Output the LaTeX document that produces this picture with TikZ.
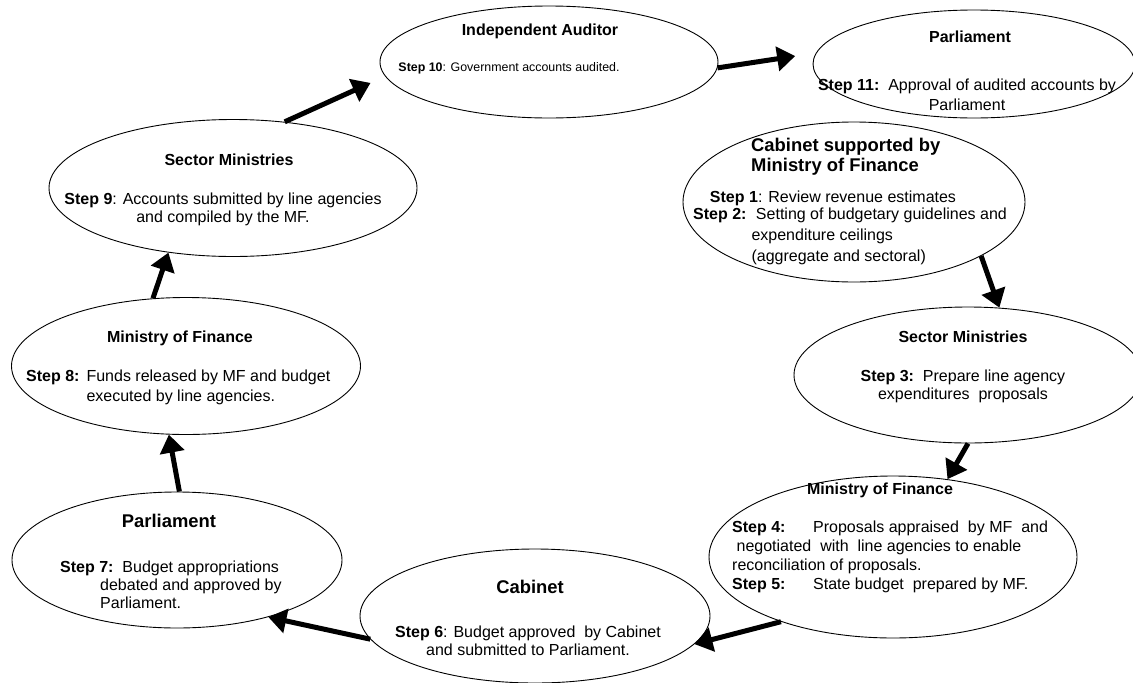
\documentclass[tikz,border=0pt]{standalone}
\usepackage{fontspec}
\setmainfont{Liberation Sans}
\usetikzlibrary{shapes.geometric}
\usetikzlibrary{arrows.meta}
\tikzset{
  stage/.style={draw, ellipse, line width=0.9pt, inner sep=0pt},
  head/.style={inner sep=0pt, font=\bfseries\fontsize{16}{19}\selectfont},
  bighead/.style={inner sep=0pt, align=left, font=\bfseries\fontsize{18.4}{20}\selectfont},
  txt/.style={inner sep=0pt, align=center, font=\fontsize{16}{18}\selectfont},
  flow/.style={line width=5pt, -{Triangle[length=18pt,width=24pt]}},
}
\begin{document}
\begin{tikzpicture}[x=1pt,y=-1pt]
    \useasboundingbox (0,0) rectangle (1133,683);
    \node[stage, minimum width=338, minimum height=112] (aud) at (549,62) {};
    \node[stage, minimum width=322, minimum height=108] (parT) at (974,64) {};
    \node[stage, minimum width=342, minimum height=160] (cabS) at (854,202) {};
    \node[stage, minimum width=348, minimum height=136] (secR) at (968,375) {};
    \node[stage, minimum width=368, minimum height=162] (mofR) at (893,557) {};
    \node[stage, minimum width=350, minimum height=134] (cab) at (535,616) {};
    \node[stage, minimum width=330, minimum height=136] (parL) at (177,560) {};
    \node[stage, minimum width=349, minimum height=137] (mofL) at (186,366) {};
    \node[stage, minimum width=368, minimum height=137] (secL) at (233,188) {};
    \node[head] (aud-t) at (540,31) {Independent Auditor};
    \node[txt, font=\fontsize{12.4}{15}\selectfont] (aud-s) at (509,68) {\textbf{Step 10}: Government accounts audited.};
    \node[head] (parT-t) at (970,37) {Parliament};
    \node[txt, font=\fontsize{16}{20}\selectfont] (parT-s) at (967,95) {\textbf{Step 11:}\ \ Approval of audited accounts by\\Parliament};
    \node[bighead, anchor=west] (cabS-t) at (751,157) {Cabinet supported by\\Ministry of Finance};
    \node[txt] (cabS-s1) at (833,198) {\textbf{Step 1}: Review revenue estimates};
    \node[txt, anchor=west, font=\fontsize{16}{21}\selectfont] (cabS-s2) at (693,236) {\begin{tabular}{@{}l@{\hspace{5pt}}l@{}}\textbf{Step 2:} & \ Setting of budgetary guidelines and\\ & expenditure ceilings\\ & (aggregate and sectoral)\end{tabular}};
    \node[head] (secR-t) at (963,337) {Sector Ministries};
    \node[txt] (secR-s) at (963,386) {\textbf{Step 3:}\ \ Prepare line agency\\expenditures\ \ proposals};
    \node[head] (mofR-t) at (880,490) {Ministry of Finance};
    \node[txt, align=left, anchor=west, font=\fontsize{16}{19.2}\selectfont] (mofR-s) at (732,557) {\makebox[81pt][l]{\textbf{Step 4:}}Proposals appraised\ \ by MF\ \ and\\\ negotiated\ \ with\ \ line agencies to enable\\reconciliation of proposals.\\\makebox[81pt][l]{\textbf{Step 5:}}State budget\ \ prepared by MF.};
    \node[bighead] (cab-t) at (530,587) {Cabinet};
    \node[txt] (cab-s) at (528,641) {\textbf{Step 6}: Budget approved\ \ by Cabinet\\and submitted to Parliament.};
    \node[bighead] (parL-t) at (169,521) {Parliament};
    \node[txt, align=left, anchor=west] (parL-s) at (60,585) {\textbf{Step 7:}\ \ Budget appropriations\\\hspace*{40pt}debated and approved by\\\hspace*{40pt}Parliament.};
    \node[head] (mofL-t) at (180,338) {Ministry of Finance};
    \node[txt, anchor=west, font=\fontsize{16}{20}\selectfont] (mofL-s) at (26,387) {\begin{tabular}{@{}l@{\hspace{7pt}}l@{}}\textbf{Step 8:} & Funds released by MF and budget\\ & executed by line agencies.\end{tabular}};
    \node[head] (secL-t) at (229,160) {Sector Ministries};
    \node[txt] (secL-s) at (223,209) {\textbf{Step 9}: Accounts submitted by line agencies\\and compiled by the MF.};
    \path[draw, flow, shorten >=21pt] (aud.-2) -- (parT.176);
    \path[draw, flow] (cabS.-23) -- (secR.65);
    \path[draw, flow] (secR.south) -- (mofR.55);
    \path[draw, flow] (mofR.210) -- (cab.-10);
    \path[draw, flow] (cab.188) -- (parL.-32);
    \path[draw, flow] (parL.88) -- (mofL.256);
    \path[draw, flow] (mofL.116) -- (secL.225);
    \path[draw, flow, shorten >=16pt] (secL.52) -- (aud.185);
\end{tikzpicture}
\end{document}
